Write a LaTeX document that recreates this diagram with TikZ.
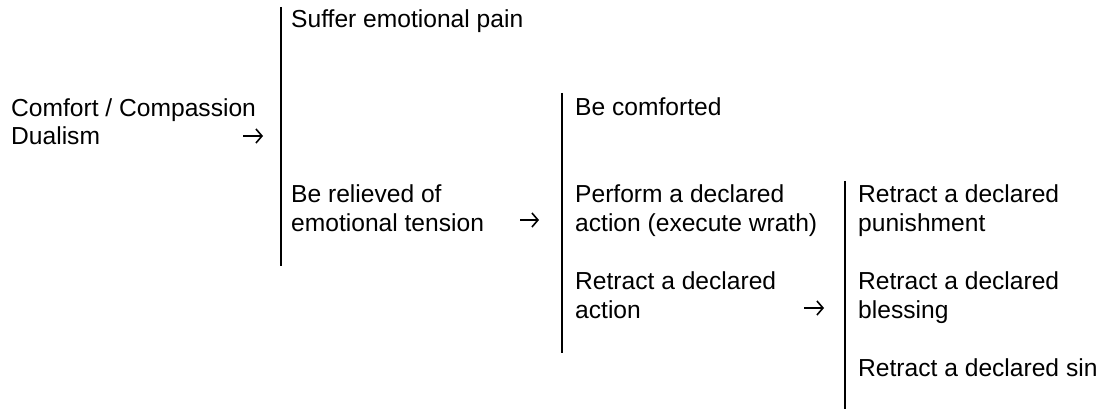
\documentclass[tikz,border=0pt]{standalone}
\usepackage{fontspec}
\setmainfont{Liberation Sans}
\usetikzlibrary{arrows.meta}

\tikzset{
  item/.style={anchor=base west,align=left,inner sep=0pt,
    font=\fontsize{24.6}{28.5}\selectfont},
  pointer/.style={line width=1.6pt,
    -{Straight Barb[length=6pt,width=14pt,line width=1.6pt]}},
  divider/.style={line width=2pt}
}

\begin{document}
\begin{tikzpicture}[x=1pt,y=-1pt]
\useasboundingbox (0,0) rectangle (1106,409);

% column lines
\draw[divider] (281,7) -- (281,266);
\draw[divider] (562,93) -- (562,353);
\draw[divider] (845,181) -- (845,409);

% first column (multi-line nodes sit on their last baseline)
\node[item] (dualism) at (11,145) {Comfort / Compassion\\Dualism};
\coordinate (dualS) at (243,136);
\coordinate (dualE) at (263,136);
\draw[pointer] (dualS) -- (dualE);

% second column
\node[item] (suffer) at (291,28) {Suffer emotional pain};
\node[item] (relieved) at (291,231) {Be relieved of\\emotional tension};
\coordinate (relS) at (520,220);
\coordinate (relE) at (539,220);
\draw[pointer] (relS) -- (relE);

% third column
\node[item] (comforted) at (575,116) {Be comforted};
\node[item] (perform) at (575,231) {Perform a declared\\action (execute wrath)};
\node[item] (retract) at (575,318) {Retract a declared\\action};
\coordinate (retS) at (804,308);
\coordinate (retE) at (824,308);
\draw[pointer] (retS) -- (retE);

% fourth column
\node[item] (punish) at (858,231) {Retract a declared\\punishment};
\node[item] (bless) at (858,318) {Retract a declared\\blessing};
\node[item] (sin) at (858,376) {Retract a declared sin};

\end{tikzpicture}
\end{document}
